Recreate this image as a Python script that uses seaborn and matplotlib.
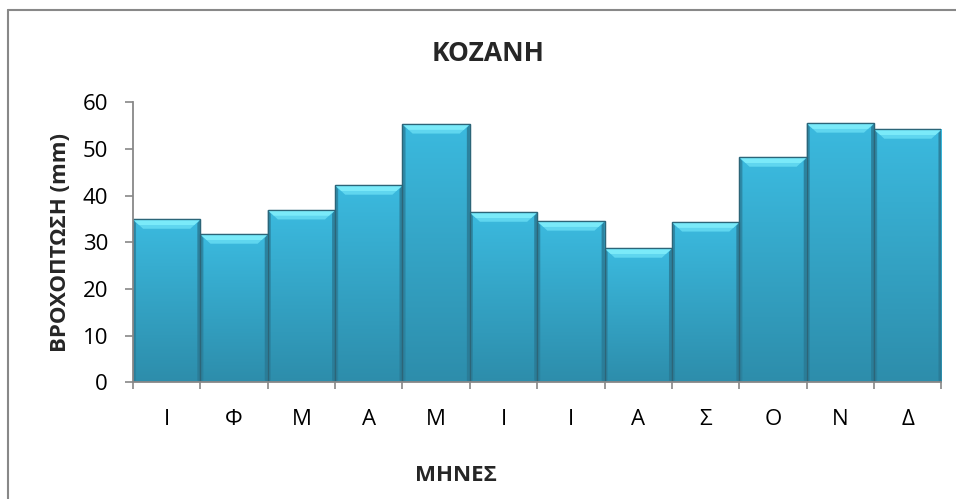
import numpy as np
import pandas as pd
import matplotlib
matplotlib.use("Agg")
import matplotlib.pyplot as plt
import seaborn as sns
from matplotlib.patches import Polygon
from matplotlib.colors import LinearSegmentedColormap
from matplotlib.lines import Line2D

# ---- data ----
months = ["Ι", "Φ", "Μ", "Α", "Μ", "Ι", "Ι", "Α", "Σ", "Ο", "Ν", "Δ"]
rain_mm = [34.9, 31.7, 36.9, 42.2, 55.3, 36.4, 34.5, 28.7, 34.3, 48.2, 55.5, 54.2]
y_ticks = [0, 10, 20, 30, 40, 50, 60]
title = "ΚΟΖΑΝΗ"
y_label = "ΒΡΟΧΟΠΤΩΣΗ (mm)"
x_label = "ΜΗΝΕΣ"

sns.set_theme(style="white")
plt.rcParams["font.family"] = ["Open Sans", "DejaVu Sans"]

W, H = 956, 499
df = pd.DataFrame({"pos": list(range(len(months))), "rain": rain_mm})

fig = plt.figure(figsize=(W / 100, H / 100), dpi=100)
ax = fig.add_axes([133 / W, 1 - 382.3 / H, (941.5 - 133) / W, (382.3 - 102.3) / H])

sns.barplot(data=df, x="pos", y="rain", color="#36acd0", width=1.0,
            edgecolor="#2a6a80", linewidth=0.9, saturation=1, ax=ax, zorder=2)

ax.set_ylim(0, 60)
ax.set_xlim(-0.5, len(months) - 0.5)

# gradient + bevel overlays derived from the bars
cmap = LinearSegmentedColormap.from_list("g", ["#2d8dab", "#3bbadf"])
grad = np.linspace(0, 1, 256).reshape(-1, 1)
dy = 2.0   # data units (~9 px)
dx = 0.15
for p in list(ax.patches):
    x0 = p.get_x()
    w = p.get_width()
    h = p.get_height()
    x1 = x0 + w
    im = ax.imshow(grad, extent=[x0, x1, 0, h], origin="lower", cmap=cmap,
                   aspect="auto", zorder=2.1, interpolation="bilinear")
    im.set_clip_path(p)
    # top bevel (light)
    ax.add_patch(Polygon([(x0, h), (x1, h), (x1 - dx, h - dy), (x0 + dx, h - dy)],
                         closed=True, facecolor="#5fd6ef", edgecolor="none", zorder=2.2))
    ax.add_patch(Polygon([(x0 + dx * 0.1, h - dy * 0.1), (x1 - dx * 0.1, h - dy * 0.1),
                          (x1 - dx * 0.6, h - dy * 0.6), (x0 + dx * 0.6, h - dy * 0.6)],
                         closed=True, facecolor="#80eefb", edgecolor="none", zorder=2.25, alpha=0.85))
    # side bevels (slightly darker)
    sx = 0.045
    ax.add_patch(Polygon([(x0, h), (x0 + sx, h - dy * 0.4), (x0 + sx, 0.4), (x0, 0)],
                         closed=True, facecolor="#2b7f9b", edgecolor="none", zorder=2.2, alpha=0.8))
    ax.add_patch(Polygon([(x1, h), (x1 - sx, h - dy * 0.4), (x1 - sx, 0.4), (x1, 0)],
                         closed=True, facecolor="#2a7a95", edgecolor="none", zorder=2.2, alpha=0.85))
    # outline
    ax.add_patch(Polygon([(x0, 0), (x0, h), (x1, h), (x1, 0)], closed=True,
                         facecolor="none", edgecolor="#2c6578", linewidth=0.9, zorder=2.3))

# axes styling
for s in ["top", "right"]:
    ax.spines[s].set_visible(False)
for s in ["left", "bottom"]:
    ax.spines[s].set_color("#888888")
    ax.spines[s].set_linewidth(1.3)
    ax.spines[s].set_zorder(3)

ax.set_yticks(y_ticks)
ax.set_yticklabels([str(v) for v in y_ticks], fontsize=16)
ax.tick_params(axis="y", which="major", direction="out", length=6, width=1.2,
               color="#888888", left=True, pad=12, labelcolor="#000000")

ax.set_xticks(range(len(months)))
ax.set_xticklabels(months, fontsize=16)
ax.tick_params(axis="x", which="major", length=0, pad=19, labelcolor="#000000")
ax.set_xticks(np.arange(-0.5, len(months), 1.0), minor=True)
ax.tick_params(axis="x", which="minor", direction="out", length=5, width=1.2,
               color="#888888", bottom=True)
ax.set_xlabel("")
ax.set_ylabel("")

# titles placed like the reference
fig.text(488 / W, 1 - 61 / H, title, fontsize=19, fontweight="bold",
         ha="center", va="baseline")
fig.text(456 / W, 1 - 481 / H, x_label, fontsize=16, fontweight="bold",
         ha="center", va="baseline")
fig.text(60 / W, 1 - 242 / H, y_label, fontsize=16, fontweight="bold",
         ha="center", va="center", rotation=90)

# figure border (chart area frame)
fig.add_artist(Line2D([8 / W, 8 / W], [1 - 10 / H, 0], color="#888888", lw=1.5,
                      transform=fig.transFigure))
fig.add_artist(Line2D([8 / W, 1], [1 - 10 / H, 1 - 10 / H], color="#888888", lw=1.5,
                      transform=fig.transFigure))

fig.savefig("out.png", dpi=100)
